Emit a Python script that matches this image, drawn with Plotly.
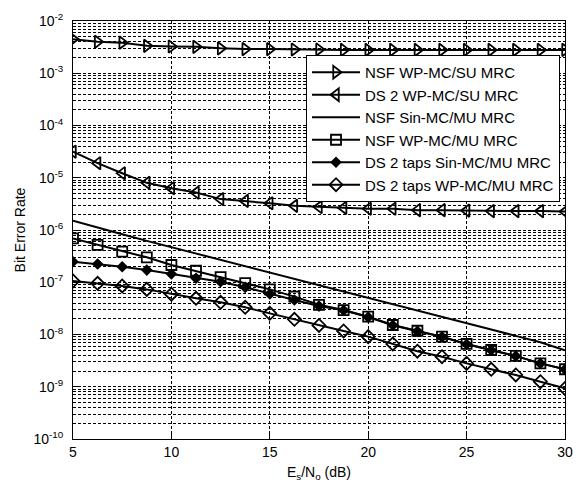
import plotly.graph_objects as go

snr = [5, 6.25, 7.5, 8.75, 10, 11.25, 12.5, 13.75, 15, 16.25, 17.5, 18.75, 20,
       21.25, 22.5, 23.75, 25, 26.25, 27.5, 28.75, 30]

nsf_wp_su = [4.5e-3, 4.0e-3, 3.85e-3, 3.35e-3, 3.25e-3, 3.2e-3, 3.0e-3, 2.9e-3, 2.9e-3,
             2.85e-3, 2.85e-3, 2.8e-3, 2.8e-3, 2.8e-3, 2.8e-3, 2.8e-3, 2.8e-3, 2.8e-3,
             2.8e-3, 2.8e-3, 2.8e-3]
ds2_wp_su = [3.15e-5, 1.9e-5, 1.22e-5, 8.0e-6, 6.3e-6, 5.2e-6, 3.9e-6, 3.6e-6, 3.25e-6,
             2.9e-6, 2.75e-6, 2.65e-6, 2.55e-6, 2.55e-6, 2.4e-6, 2.4e-6, 2.35e-6, 2.3e-6,
             2.3e-6, 2.3e-6, 2.25e-6]
nsf_sin_mu = [1.5e-6, 1.1e-6, 8.3e-7, 6.2e-7, 4.7e-7, 3.55e-7, 2.7e-7, 2.05e-7, 1.55e-7,
              1.17e-7, 8.8e-8, 6.7e-8, 5.05e-8, 3.8e-8, 2.9e-8, 2.2e-8, 1.65e-8, 1.25e-8,
              9.4e-9, 7.1e-9, 5.0e-9]
nsf_wp_mu = [6.9e-7, 5.2e-7, 3.85e-7, 3.0e-7, 2.14e-7, 1.66e-7, 1.25e-7, 9.6e-8, 7.3e-8,
             5.3e-8, 3.7e-8, 2.94e-8, 2.19e-8, 1.52e-8, 1.18e-8, 9.1e-9, 6.6e-9, 5.05e-9,
             3.9e-9, 2.8e-9, 2.16e-9]
ds2_sin_mu = [2.47e-7, 2.23e-7, 1.98e-7, 1.71e-7, 1.44e-7, 1.19e-7, 1.02e-7, 8.0e-8, 5.95e-8,
              4.57e-8, 3.5e-8, 2.9e-8, 2.15e-8, 1.5e-8, 1.15e-8, 9.0e-9, 6.5e-9, 5.0e-9,
              3.85e-9, 2.8e-9, 2.15e-9]
ds2_wp_mu = [1.06e-7, 9.55e-8, 8.5e-8, 7.3e-8, 5.9e-8, 4.93e-8, 4.13e-8, 3.31e-8, 2.54e-8,
             1.95e-8, 1.49e-8, 1.17e-8, 9.1e-9, 6.6e-9, 4.8e-9, 3.76e-9, 2.8e-9, 2.16e-9,
             1.68e-9, 1.25e-9, 9.3e-10]

names = ["NSF WP-MC/SU MRC", "DS 2 WP-MC/SU MRC", "NSF Sin-MC/MU MRC",
         "NSF WP-MC/MU MRC", "DS 2 taps Sin-MC/MU MRC", "DS 2 taps WP-MC/MU MRC"]
series = [nsf_wp_su, ds2_wp_su, nsf_sin_mu, nsf_wp_mu, ds2_sin_mu, ds2_wp_mu]
symbols = ["triangle-right-open", "triangle-left-open", None, "square-open",
           "diamond", "diamond-open"]
msizes = [11, 11, 0, 10, 7, 10]

ytick_exps = list(range(-10, -1))

fig = go.Figure()
for name, ys, sym, ms in zip(names, series, symbols, msizes):
    if sym is None:
        fig.add_trace(go.Scatter(x=snr, y=ys, name=name, mode="lines",
                                 line=dict(color="black", width=2)))
    else:
        fig.add_trace(go.Scatter(x=snr, y=ys, name=name, mode="lines+markers",
                                 line=dict(color="black", width=2),
                                 marker=dict(symbol=sym, size=ms, color="black",
                                             line=dict(color="black", width=1.8))))

minor_vals = [k * 10.0 ** e for e in range(-10, -2) for k in range(2, 10)]

fig.update_layout(
    width=576, height=488,
    margin=dict(l=73, r=11, t=21, b=49, autoexpand=False),
    paper_bgcolor="white", plot_bgcolor="white",
    font=dict(family="Liberation Sans, Arial, sans-serif", size=13, color="black"),
    showlegend=True,
    legend=dict(x=0.4736, y=0.9187, xanchor="left", yanchor="top",
                bgcolor="white", bordercolor="black", borderwidth=1,
                font=dict(size=15), itemwidth=48, tracegroupgap=0),
)
fig.update_xaxes(
    range=[5, 30], tickvals=[5, 10, 15, 20, 25, 30], automargin=False,
    showline=True, linecolor="black", linewidth=1, mirror=True,
    ticks="inside", ticklen=5, tickcolor="black",
    showgrid=True, gridcolor="black", gridwidth=1, griddash="3px,2px",
    zeroline=False,
    tickfont=dict(size=14),
    title=dict(text="E<sub>s</sub>/N<sub>o</sub> (dB)", font=dict(size=14), standoff=8),
)
fig.update_yaxes(
    type="log", range=[-10, -2], automargin=False,
    tickvals=[10.0 ** e for e in ytick_exps] + [1e-2],
    ticktext=["10<sup>%d</sup>" % e for e in ytick_exps] + ["10<sup>-2</sup>"],
    ticklabelstandoff=6,
    showline=True, linecolor="black", linewidth=1, mirror=True,
    ticks="inside", ticklen=5, tickcolor="black",
    showgrid=True, gridcolor="black", gridwidth=1, griddash="3px,2px",
    minor=dict(tickmode="array", tickvals=minor_vals, showgrid=True,
               gridcolor="black", gridwidth=1, griddash="3px,2px",
               ticks="inside", ticklen=3, tickcolor="black"),
    tickfont=dict(size=14),
    title=dict(text="Bit Error Rate", font=dict(size=14), standoff=4),
)

fig.write_html("out.html")
